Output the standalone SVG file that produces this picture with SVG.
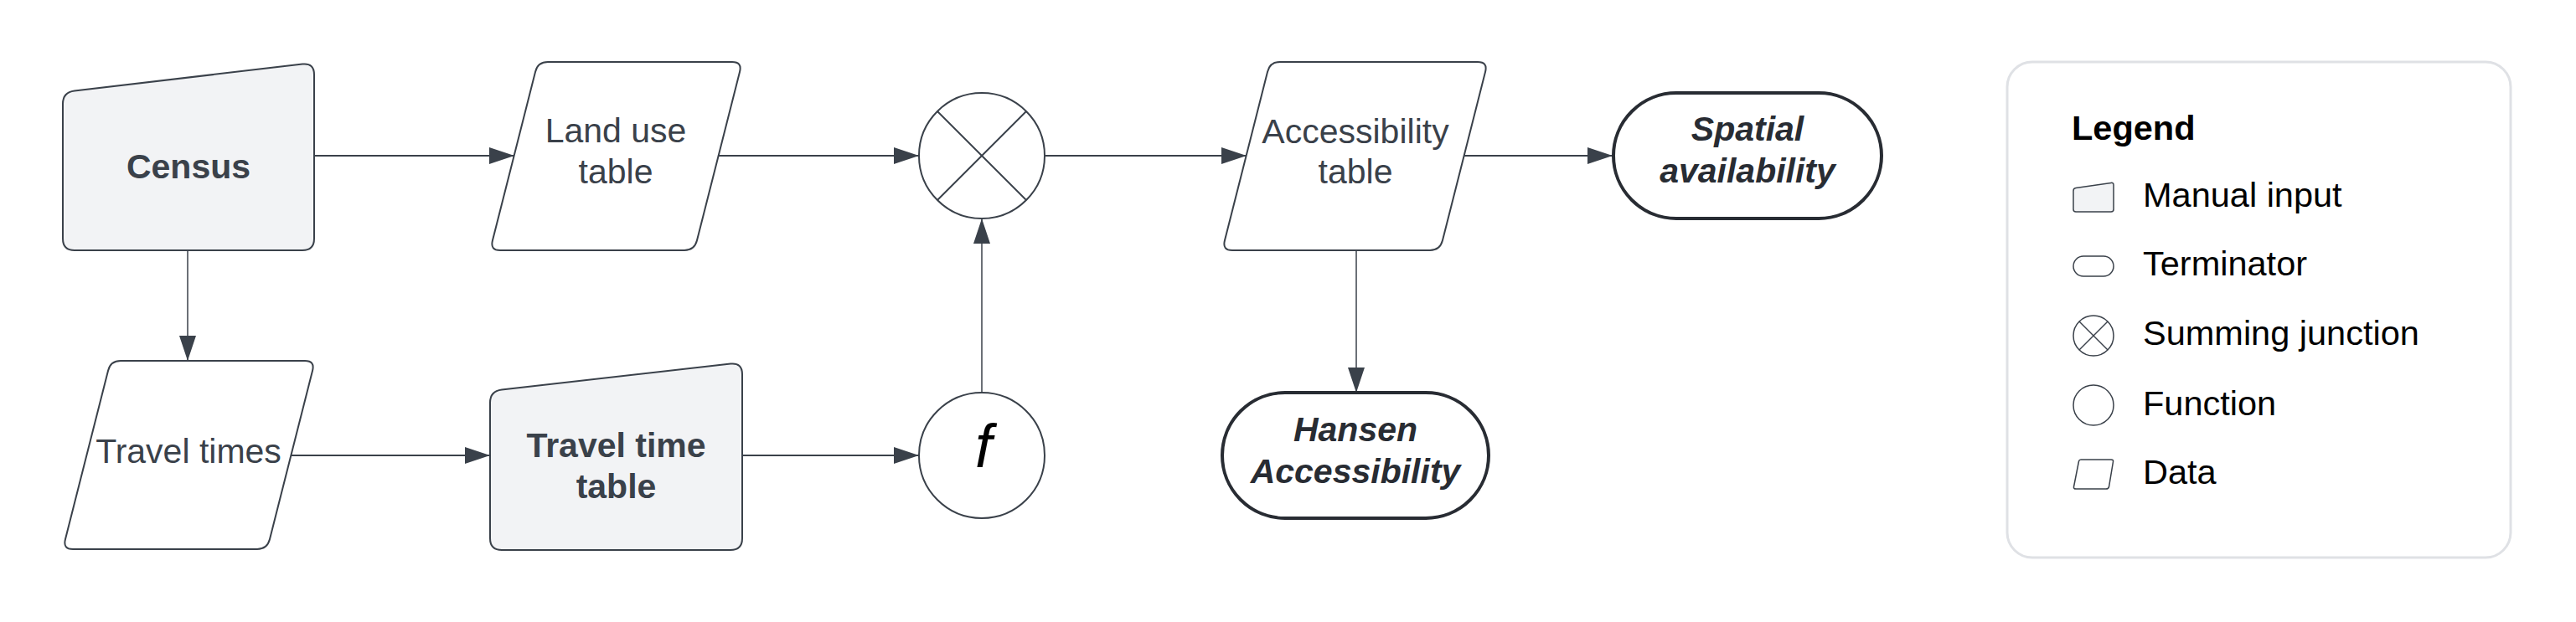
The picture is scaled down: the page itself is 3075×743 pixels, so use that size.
<svg xmlns="http://www.w3.org/2000/svg" width="3075" height="743" viewBox="0 0 3075 743">
<style>
.node{fill:#ffffff;stroke:#3a414a;stroke-width:2}
.manual{fill:#f2f3f5;stroke:#3a414a;stroke-width:2}
.term{fill:#ffffff;stroke:#282c33;stroke-width:4}
.conn{fill:none;stroke:#3a414a;stroke-width:2}
.thin{stroke-width:1.5}
.t{font-family:"Liberation Sans",Arial,sans-serif;font-size:41px;fill:#3a414a;text-anchor:middle}
.b{font-weight:700}
.bi{font-weight:700;font-style:italic;fill:#282c33}
.lg{font-family:"Liberation Sans",Arial,sans-serif;font-size:41.5px;fill:#000000}
.icon{fill:#ffffff;stroke:#3a414a;stroke-width:1.5}
</style>
<defs>
<marker id="arr" markerUnits="userSpaceOnUse" markerWidth="30" markerHeight="20" refX="30" refY="10" orient="auto">
<path d="M0,0 L30,10 L0,20 Z" fill="#3a414a"/>
</marker>
</defs>
<rect width="3075" height="743" fill="#ffffff"/>

<g id="connectors">
<line class="conn" x1="376" y1="186" x2="614" y2="186" marker-end="url(#arr)"/>
<line class="conn" x1="858" y1="186" x2="1097" y2="186" marker-end="url(#arr)"/>
<line class="conn" x1="1248" y1="186" x2="1488" y2="186" marker-end="url(#arr)"/>
<line class="conn" x1="1748" y1="186" x2="1925" y2="186" marker-end="url(#arr)"/>
<line class="conn thin" x1="224" y1="299" x2="224" y2="431" marker-end="url(#arr)"/>
<line class="conn" x1="347" y1="544" x2="585" y2="544" marker-end="url(#arr)"/>
<line class="conn" x1="886" y1="544" x2="1097" y2="544" marker-end="url(#arr)"/>
<line class="conn thin" x1="1172" y1="469" x2="1172" y2="261" marker-end="url(#arr)"/>
<line class="conn thin" x1="1619" y1="299" x2="1619" y2="469" marker-end="url(#arr)"/>
</g>

<g id="census">
<path class="manual" d="M75,124 Q75,110 88.9,108.4 L361.1,76.6 Q375,75 375,89 L375,285 Q375,299 361,299 L89,299 Q75,299 75,285 Z"/>
<text class="t b" x="225" y="213">Census</text>
</g>

<g id="land-use-table">
<path class="node" transform="translate(585,74)" d="M54.05,11.63 Q57,0 69,0 L289,0 Q301,0 298.05,11.63 L246.95,213.37 Q244,225 232,225 L12,225 Q0,225 2.95,213.37 Z"/>
<text class="t" x="735" y="170">Land use</text>
<text class="t" x="735" y="219">table</text>
</g>

<g id="travel-times">
<path class="node" transform="translate(75,431)" d="M54.05,11.63 Q57,0 69,0 L289,0 Q301,0 298.05,11.63 L246.95,213.37 Q244,225 232,225 L12,225 Q0,225 2.95,213.37 Z"/>
<text class="t" x="225" y="553">Travel times</text>
</g>

<g id="travel-time-table">
<path class="manual" d="M585,481 Q585,467 598.9,465.4 L872.1,434.6 Q886,433 886,447 L886,643 Q886,657 872,657 L599,657 Q585,657 585,643 Z"/>
<text class="t b" x="735.5" y="546">Travel time</text>
<text class="t b" x="735.5" y="595">table</text>
</g>

<g id="summing-junction">
<circle class="node" cx="1172" cy="186" r="75"/>
<line class="conn" x1="1119" y1="133" x2="1225" y2="239"/>
<line class="conn" x1="1225" y1="133" x2="1119" y2="239"/>
</g>

<g id="function">
<circle class="node" cx="1172" cy="544" r="75"/>
<text x="1174" y="558" font-family="'Liberation Sans',Arial,sans-serif" font-style="italic" font-size="72" fill="#000000" text-anchor="middle">f</text>
</g>

<g id="accessibility-table">
<path class="node" transform="translate(1459,74)" d="M54.05,11.63 Q57,0 69,0 L305,0 Q317,0 314.05,11.63 L262.95,213.37 Q260,225 248,225 L12,225 Q0,225 2.95,213.37 Z"/>
<text class="t" x="1618" y="170.5">Accessibility</text>
<text class="t" x="1618" y="219">table</text>
</g>

<g id="spatial-availability">
<rect class="term" x="1926" y="111" width="320" height="150" rx="75"/>
<text class="t bi" x="2086" y="168">Spatial</text>
<text class="t bi" x="2086" y="218">availability</text>
</g>

<g id="hansen-accessibility">
<rect class="term" x="1459" y="469" width="318" height="150" rx="75"/>
<text class="t bi" x="1618" y="527">Hansen</text>
<text class="t bi" x="1618" y="577">Accessibility</text>
</g>

<g id="legend">
<rect x="2396" y="74" width="601" height="592" rx="30" fill="#ffffff" stroke="#dfe1e5" stroke-width="3"/>
<text class="lg" x="2473" y="167" font-weight="700" font-size="41">Legend</text>
<path class="icon" style="fill:#f2f3f5" d="M2475,228 Q2475,225 2478,224.6 L2520,218.4 Q2523,218 2523,221 L2523,250 Q2523,253 2520,253 L2478,253 Q2475,253 2475,250 Z"/>
<text class="lg" x="2558" y="247">Manual input</text>
<rect class="icon" x="2475" y="306" width="48" height="24" rx="12"/>
<text class="lg" x="2558" y="329">Terminator</text>
<circle class="icon" cx="2499" cy="401" r="24"/>
<line class="icon" x1="2482" y1="384" x2="2516" y2="418"/>
<line class="icon" x1="2516" y1="384" x2="2482" y2="418"/>
<text class="lg" x="2558" y="412">Summing junction</text>
<circle class="icon" cx="2499" cy="484" r="24"/>
<text class="lg" x="2558" y="496">Function</text>
<path class="icon" d="M2481.5,551 Q2482,549 2484,549 L2520,549 Q2523,549 2522.5,551.5 L2517.5,581.5 Q2517,584 2514,584 L2478,584 Q2475,584 2475.5,581.5 Z"/>
<text class="lg" x="2558" y="578">Data</text>
</g>
</svg>
